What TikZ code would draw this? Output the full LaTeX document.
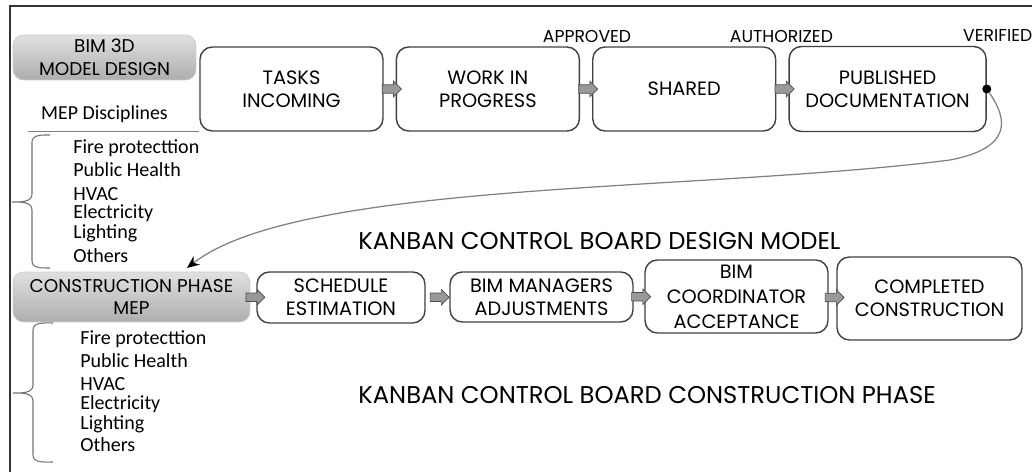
\documentclass[tikz,border=0pt]{standalone}
\usepackage{fontspec}
\setmainfont{Poppins}
\newfontfamily\listfont{Carlito}
\usetikzlibrary{shapes.arrows, arrows.meta, positioning, calc}

\tikzset{
  card/.style={draw=black!75, line width=0.8pt, rounded corners=7pt, fill=white, align=center, inner sep=1pt, font=\fontsize{11}{13}\selectfont},
  phase/.style={draw=black!20, rounded corners=6pt, top color=black!12, bottom color=black!32, align=center, inner sep=1pt, font=\fontsize{10.5}{13}\selectfont},
  flow/.style={single arrow, draw=black!70, fill=black!40, minimum height=0.38cm, inner sep=2.2pt, single arrow head extend=2pt},
  tag/.style={font=\fontsize{9.8}{11}\selectfont, inner sep=1pt},
  board/.style={font=\fontsize{13.8}{16}\selectfont, anchor=west, inner sep=0pt},
  brace/.style={draw=black!55, line width=0.6pt},
  disc/.style={font=\listfont\fontsize{11.4}{12}\selectfont, align=left, anchor=north west, inner sep=0pt},
}

\begin{document}
\begin{tikzpicture}[x=0.02cm, y=-0.02cm]
    \useasboundingbox (0,0) rectangle (1032,472);
    % frame
    \coordinate (fr) at (10,6);
    \draw[black!80, line width=1pt] (1032,6) -- (fr) -- (10,472);

    % design model board
    \node[phase, minimum width=3.66cm, minimum height=0.9cm] (bim) at (104.5,57.5) {BIM 3D\\MODEL DESIGN};
    \node[card, minimum width=3.66cm, minimum height=1.68cm] (tasks) at (291.5,89) {TASKS\\INCOMING};
    \node[card, minimum width=3.66cm, minimum height=1.68cm, right=0.24cm of tasks] (wip) {WORK IN\\PROGRESS};
    \node[card, minimum width=3.66cm, minimum height=1.68cm, right=0.24cm of wip] (shared) {SHARED};
    \node[card, minimum width=3.94cm, minimum height=1.7cm, right=0.24cm of shared] (pub) {PUBLISHED\\DOCUMENTATION};
    \node[flow] (f1) at ($(tasks.east)!0.5!(wip.west)$) {};
    \node[flow] (f2) at ($(wip.east)!0.5!(shared.west)$) {};
    \node[flow] (f3) at ($(shared.east)!0.5!(pub.west)$) {};
    \node[tag, above=1pt of wip.north east, xshift=0.14cm] (appr) {APPROVED};
    \node[tag, above=1pt of shared.north east, xshift=0.1cm] (auth) {AUTHORIZED};
    \node[tag, above=1pt of pub.north east, xshift=0.22cm] (verif) {VERIFIED};
    \node[circle, fill=black, inner sep=0pt, minimum size=0.18cm] (dot) at (pub.east) {};

    \node[font=\listfont\fontsize{11.3}{12}\selectfont, below=0.38cm of bim] (mep) {MEP Disciplines};
    \coordinate (rule) at (28,131);
    \draw[black!50] (rule) -- (rule -| tasks.west);

    \node[disc] (list1) at (73,139) {Fire protecttion\\[1pt] Public Health\\[2.2pt] HVAC\\[-1.8pt] Electricity\\[-0.7pt] Lighting\\[1.6pt] Others};
    \draw[brace] (50,135) to[out=180,in=90] (32,142) -- (32,194) to[out=-90,in=0] (12,202)
        to[out=0,in=90] (32,210) -- (32,261) to[out=-90,in=180] (50,268);

    \node[board] (dtitle) at (358,241) {KANBAN CONTROL BOARD DESIGN MODEL};

    % construction phase board
    \node[phase, minimum width=4.74cm, minimum height=1.0cm] (cons) at (131.5,297) {CONSTRUCTION PHASE\\MEP};
    \node[card, minimum width=3.36cm, minimum height=1.02cm] (sched) at (341,297.5) {SCHEDULE\\ESTIMATION};
    \node[card, minimum width=3.66cm, minimum height=1.0cm] (mgr) at (541.5,297) {BIM MANAGERS\\ADJUSTMENTS};
    \node[card, minimum width=3.66cm, minimum height=1.46cm, font=\fontsize{11}{14.2}\selectfont] (coord) at (736.5,296.5) {BIM\\COORDINATOR\\ACCEPTANCE};
    \node[card, minimum width=3.7cm, minimum height=1.66cm] (done) at (929.5,298.5) {COMPLETED\\CONSTRUCTION};
    \node[flow] (g1) at ($(cons.east)!0.5!(sched.west)$) {};
    \node[flow] (g2) at ($(sched.east)!0.5!(mgr.west)$) {};
    \node[flow] (g3) at ($(mgr.east)!0.5!(coord.west)$) {};
    \node[flow] (g4) at ($(coord.east)!0.5!(done.west)$) {};

    \node[disc] (list2) at (80,330) {Fire protecttion\\[1pt] Public Health\\[1.6pt] HVAC\\[-1.2pt] Electricity\\[-0.7pt] Lighting\\[0.5pt] Others};
    \draw[brace] (53,323) to[out=180,in=90] (33,330) -- (33,385) to[out=-90,in=0] (13,393)
        to[out=0,in=90] (33,401) -- (33,455) to[out=-90,in=180] (53,462);

    \node[board] (ctitle) at (358,395) {KANBAN CONTROL BOARD CONSTRUCTION PHASE};

    % hand-over from design to construction
    \coordinate (drop) at (187,268);
    \draw[black!50, line width=0.7pt, -{Stealth[black, length=7pt, width=6pt]}] (dot)
        .. controls (1008,120) and (1012,148) .. (950,160)
        .. controls (700,192) and (300,180) .. (drop);
\end{tikzpicture}
\end{document}
